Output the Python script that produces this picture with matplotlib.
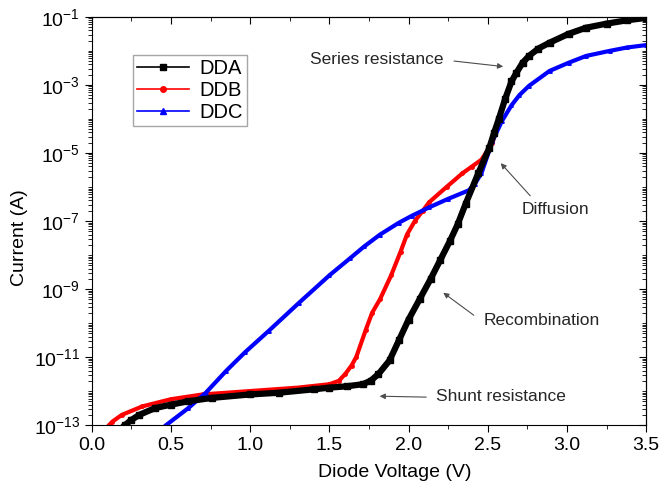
import numpy as np
import matplotlib
matplotlib.use('Agg')
import matplotlib.pyplot as plt
from matplotlib.lines import Line2D
from matplotlib.ticker import FixedLocator, LogLocator, NullFormatter, MultipleLocator

plt.rcParams['font.family'] = ['Liberation Sans', 'DejaVu Sans']
plt.rcParams['mathtext.fontset'] = 'custom'
plt.rcParams['mathtext.rm'] = 'Liberation Sans'
plt.rcParams['mathtext.it'] = 'Liberation Sans'
plt.rcParams['mathtext.default'] = 'regular'

# values, current given as log10(I / A)
dda_v = [0.21, 0.25, 0.30, 0.40, 0.50, 0.61, 0.76, 1.00, 1.18, 1.40, 1.50, 1.61, 1.71,
         1.76, 1.81, 1.88, 1.94, 2.00, 2.07, 2.14, 2.20, 2.26, 2.31, 2.36, 2.44, 2.51,
         2.54, 2.57, 2.61, 2.65, 2.68, 2.72, 2.76, 2.82, 2.89, 3.01, 3.12, 3.25, 3.38,
         3.50]
dda_log = [-13.0, -12.85, -12.7, -12.5, -12.4, -12.3, -12.2, -12.1, -12.05, -11.95,
           -11.9, -11.86, -11.8, -11.7, -11.5, -11.1, -10.5, -9.9, -9.3, -8.7, -8.15,
           -7.6, -7.1, -6.5, -5.6, -4.85, -4.41, -4.0, -3.41, -2.9, -2.65, -2.35, -2.15,
           -1.93, -1.76, -1.5, -1.32, -1.2, -1.1, -1.03]

ddb_v = [0.11, 0.13, 0.19, 0.32, 0.50, 0.70, 1.00, 1.30, 1.50, 1.56, 1.60, 1.64, 1.67,
         1.73, 1.77, 1.82, 1.89, 1.95, 1.99, 2.04, 2.09, 2.13, 2.24, 2.34, 2.40, 2.46,
         2.53, 2.57]
ddb_log = [-13.0, -12.9, -12.7, -12.45, -12.24, -12.1, -12.0, -11.9, -11.8, -11.7,
           -11.5, -11.25, -11.0, -10.2, -9.7, -9.3, -8.6, -7.9, -7.4, -7.0, -6.7, -6.45,
           -6.0, -5.6, -5.4, -5.2, -4.7, -4.1]

ddc_v = [0.47, 0.61, 0.72, 0.85, 0.97, 1.12, 1.31, 1.50, 1.63, 1.72, 1.82, 1.94, 2.02,
         2.13, 2.25, 2.38, 2.42, 2.46, 2.53, 2.59, 2.65, 2.70, 2.76, 2.89, 3.01, 3.12,
         3.27, 3.38, 3.50]
ddc_log = [-13.0, -12.5, -12.05, -11.4, -10.85, -10.22, -9.4, -8.6, -8.1, -7.75, -7.4,
           -7.05, -6.85, -6.6, -6.35, -6.1, -5.9, -5.6, -4.65, -4.06, -3.6, -3.3, -3.03,
           -2.59, -2.35, -2.15, -2.0, -1.9, -1.83]

fig = plt.figure(figsize=(6.6, 4.96), dpi=100)
ax = fig.add_axes([0.139, 0.143, 0.840, 0.823])

ax.plot(ddb_v, 10.0 ** np.array(ddb_log), color='#ff0000', lw=3, marker='o', ms=2.5,
        zorder=2)
ax.plot(ddc_v, 10.0 ** np.array(ddc_log), color='#0000ff', lw=3, marker='^', ms=2.5,
        zorder=2)
ax.plot(dda_v, 10.0 ** np.array(dda_log), color='black', lw=4.5, marker='s', ms=4.5,
        zorder=3)

ax.set_yscale('log')
ax.set_xlim(0, 3.5)
ax.set_ylim(1e-13, 1e-1)

yticks = [10.0 ** e for e in range(-13, 0, 2)]
ax.yaxis.set_major_locator(FixedLocator(yticks))
ax.yaxis.set_minor_locator(LogLocator(base=10, subs=np.arange(1, 10), numticks=30))
ax.yaxis.set_minor_formatter(NullFormatter())
ax.xaxis.set_major_locator(MultipleLocator(0.5))
ax.xaxis.set_minor_locator(MultipleLocator(0.25))

ax.tick_params(which='both', direction='out', labelsize=14)
ax.tick_params(which='major', length=5)
ax.tick_params(which='minor', length=3)

# mirrored ticks on top and right, pointing in
top = ax.secondary_xaxis('top')
top.xaxis.set_major_locator(MultipleLocator(0.5))
top.xaxis.set_minor_locator(MultipleLocator(0.25))
top.tick_params(which='both', direction='in', labeltop=False)
top.tick_params(which='major', length=5)
top.tick_params(which='minor', length=3)
right = ax.secondary_yaxis('right')
right.yaxis.set_major_locator(FixedLocator(yticks))
right.yaxis.set_minor_locator(LogLocator(base=10, subs=np.arange(1, 10), numticks=30))
right.tick_params(which='both', direction='in', labelright=False)
right.tick_params(which='major', length=5)
right.tick_params(which='minor', length=3)

ax.set_xlabel('Diode Voltage (V)', fontsize=14)
ax.set_ylabel('Current (A)', fontsize=14)
ax.xaxis.set_label_coords(0.547, -0.095)
ax.yaxis.set_label_coords(-0.115, 0.46)

handles = [
    Line2D([], [], color='black', lw=1.2, marker='s', ms=5),
    Line2D([], [], color='#ff0000', lw=1.2, marker='o', ms=4),
    Line2D([], [], color='#0000ff', lw=1.2, marker='^', ms=4),
]
ax.legend(handles, ['DDA', 'DDB', 'DDC'], loc='upper left', bbox_to_anchor=(0.074, 0.907),
          fontsize=14.5, fancybox=False, edgecolor='0.65', framealpha=1,
          handlelength=2.6, borderpad=0.2, labelspacing=0.15, handletextpad=0.5,
          borderaxespad=0)

arrow = dict(arrowstyle='-|>', color='0.3', lw=0.8, mutation_scale=8)
# (text, head, tail, text position, alignment)
notes = [
    ('Series resistance', (2.615, -2.47), (2.27, -2.29), (2.22, -2.24), 'right'),
    ('Diffusion', (2.57, -5.24), (2.78, -6.32), (2.716, -6.65), 'left'),
    ('Recombination', (2.205, -9.06), (2.426, -9.82), (2.476, -9.94), 'left'),
    ('Shunt resistance', (1.80, -12.15), (2.129, -12.18), (2.173, -12.15), 'left'),
]
for txt, head, tail, pos, ha in notes:
    ax.annotate('', xy=(head[0], 10 ** head[1]), xytext=(tail[0], 10 ** tail[1]),
                arrowprops=arrow)
    ax.text(pos[0], 10 ** pos[1], txt, ha=ha, va='center', fontsize=12.5, color='0.15')

fig.savefig('out.png', dpi=100)
